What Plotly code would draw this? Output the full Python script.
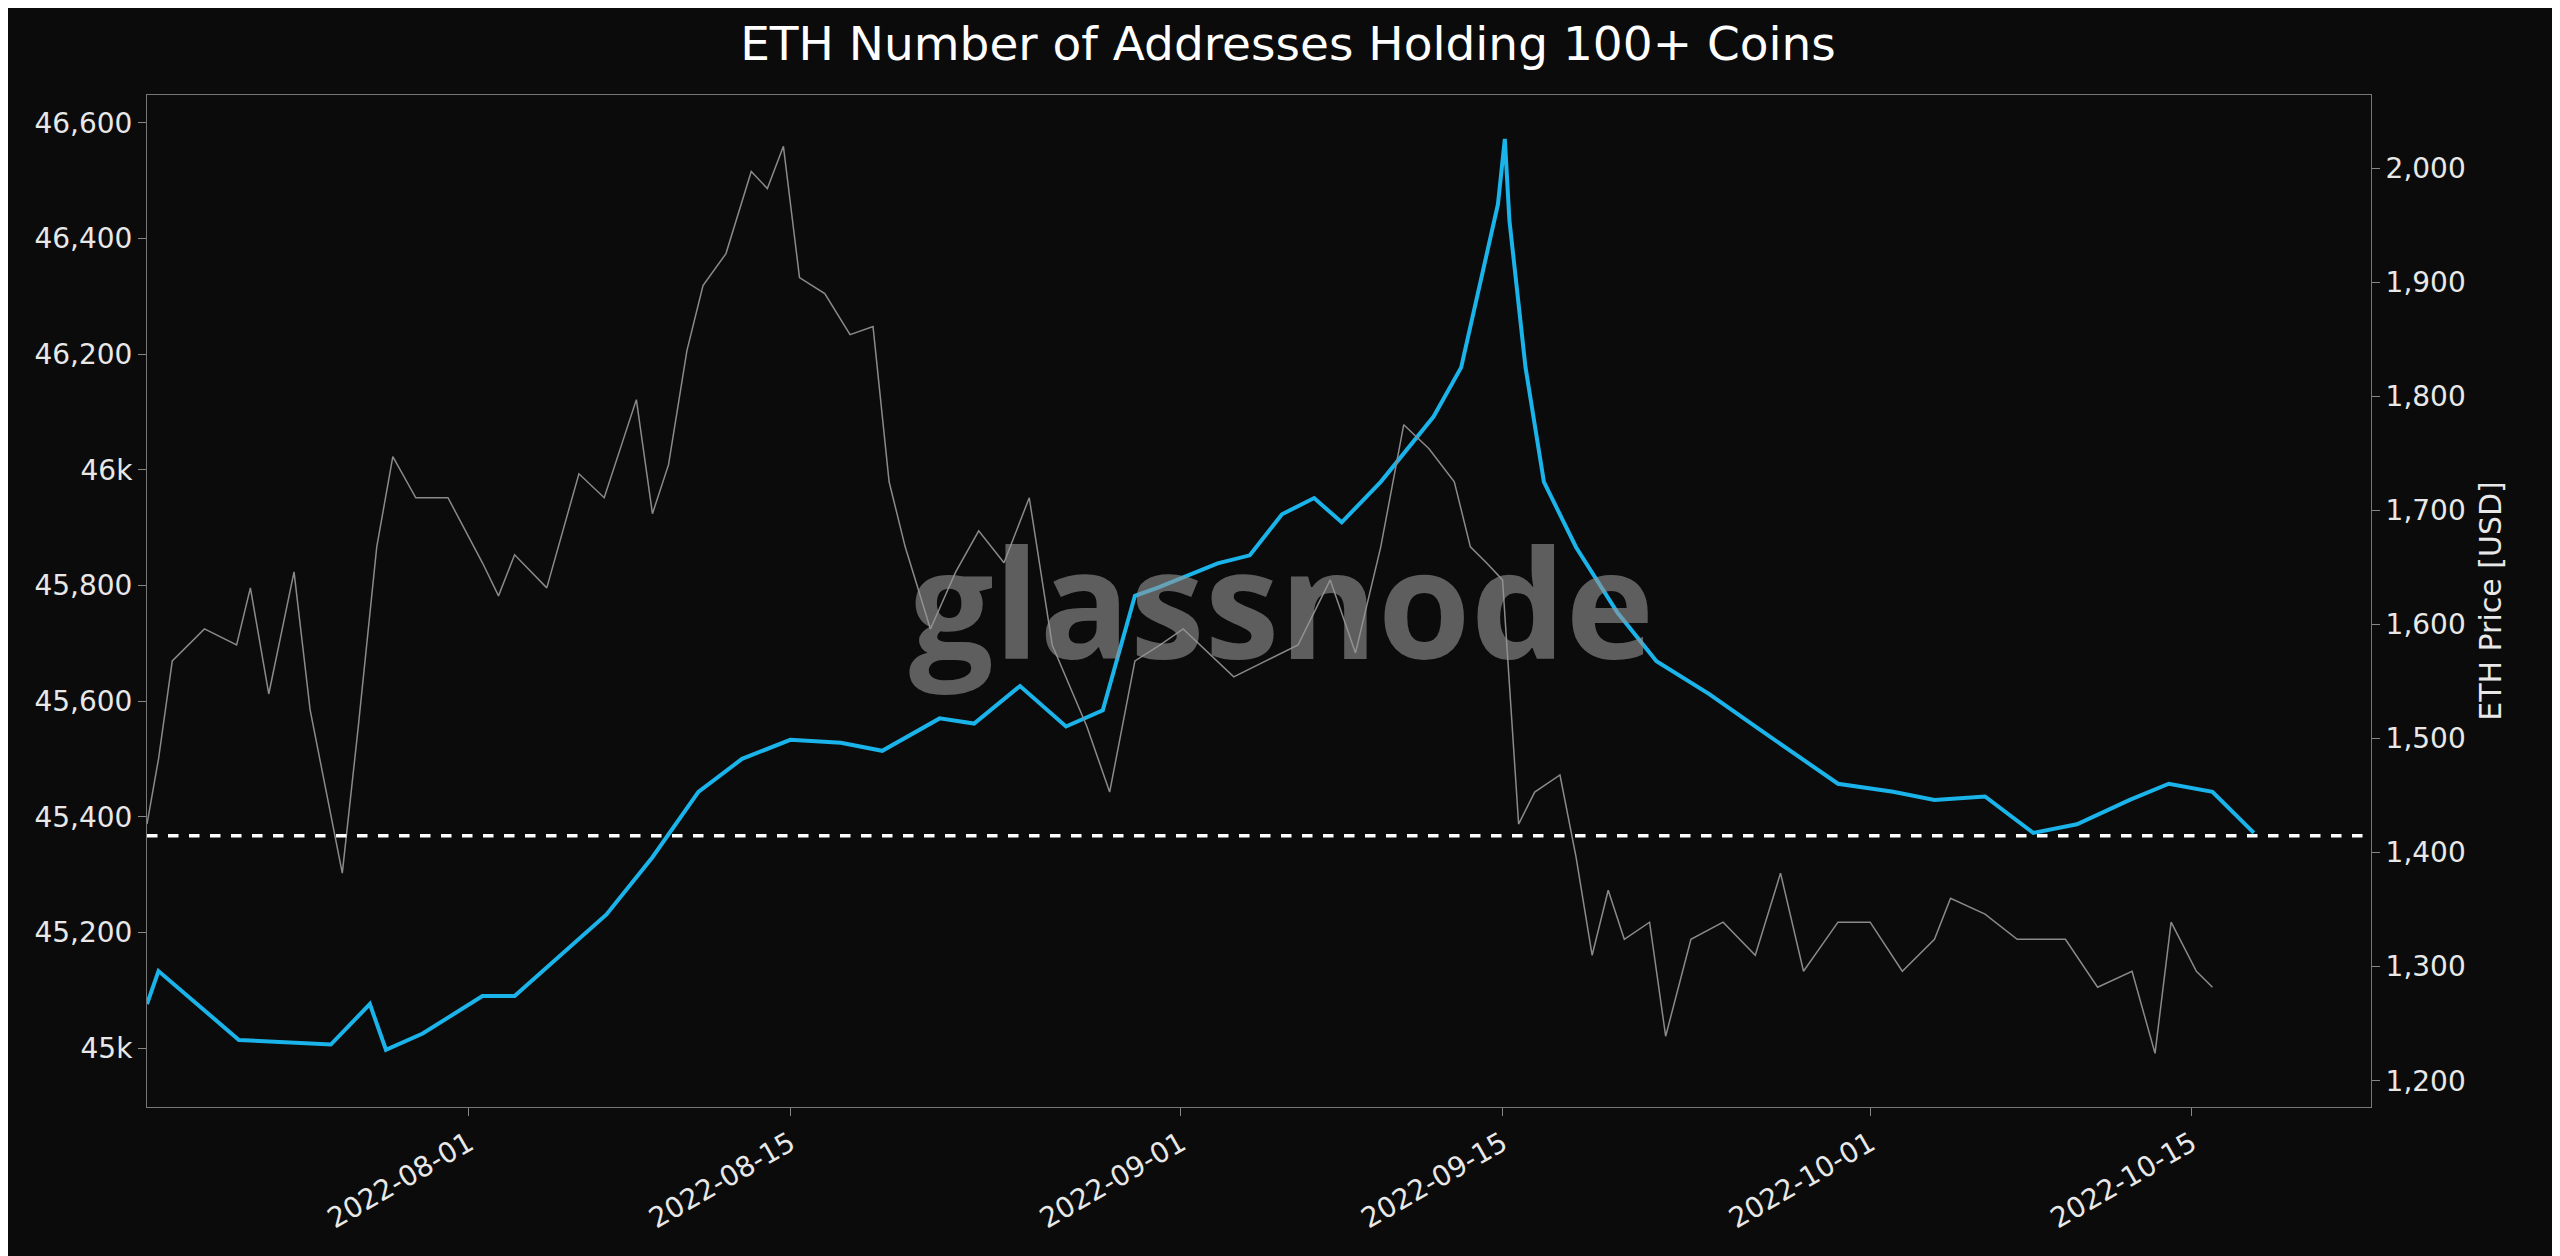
import pandas as pd
import plotly.graph_objects as go

start = pd.Timestamp("2022-07-18")
addr_days = [0,0.5,4,8,9.7,10.4,12,14.6,16,20,22,24,25.9,28,30.2,32,34.5,36,38,40,41.6,43,44,46.6,48,49.4,50.8,52,53.7,56,57.2,58.3,58.8,59.1,59.3,60,60.8,62.2,64,65.7,68,70,72,73.6,76,77.8,80,82.1,84,86.3,88,89.9,91.7]
addr_vals = [45076,45133,45014,45006,45076,44997,45025,45090,45090,45231,45330,45443,45500,45533,45528,45514,45570,45561,45626,45556,45584,45782,45796,45838,45852,45923,45951,45909,45979,46092,46177,46374,46459,46572,46431,46177,45979,45866,45753,45669,45612,45556,45500,45457,45443,45429,45435,45372,45387,45429,45457,45443,45372]
price_days = [0,.5,1.1,2.5,3.9,4.5,5.3,6.4,7.1,7.8,8.5,9.2,10,10.7,11.7,13.1,14.6,15.3,16,17.4,18.8,19.9,21.3,22,22.7,23.5,24.2,25.2,26.3,27,27.7,28.4,29.5,30.6,31.6,32.3,33,34.1,35.2,36.2,37.3,38.4,39.4,40.9,41.9,43,44.1,45.1,46.2,47.3,48.7,50.1,51.5,52.6,53.7,54.7,55.8,56.9,57.6,58.3,59,59.7,60.4,61.5,62.2,62.9,63.6,64.3,65.4,66.1,67.2,68.6,70,71.1,72.1,73.6,75,76.4,77.8,78.5,80,81.4,83.5,84.9,86.4,87.4,88.1,89.2,89.9]
price_vals = [1425,1482,1568,1596,1582,1632,1539,1646,1525,1453,1382,1511,1668,1747,1711,1711,1654,1625,1661,1632,1732,1711,1797,1697,1740,1840,1897,1925,1997,1982,2019,1904,1890,1854,1861,1725,1668,1596,1646,1682,1654,1711,1582,1511,1453,1568,1582,1596,1575,1554,1568,1582,1639,1575,1668,1775,1754,1725,1668,1654,1639,1425,1453,1468,1396,1310,1367,1324,1339,1239,1324,1339,1310,1382,1296,1339,1339,1296,1324,1360,1346,1324,1324,1282,1296,1224,1339,1296,1282]
ref_level = 45367
left_ticks = [45000,45200,45400,45600,45800,46000,46200,46400,46600]
left_text = ["45k","45,200","45,400","45,600","45,800","46k","46,200","46,400","46,600"]

to_dates = lambda d: [start + pd.Timedelta(days=x) for x in d]
fg = "#e8e8e8"
fig = go.Figure()
fig.add_trace(go.Scatter(x=to_dates(price_days), y=price_vals, yaxis="y2", mode="lines",
                         line=dict(color="#8a8a8a", width=1.5), showlegend=False))
fig.add_trace(go.Scatter(x=to_dates(addr_days), y=addr_vals, mode="lines",
                         line=dict(color="#1ab3ea", width=4), showlegend=False))
fig.add_hline(y=ref_level, line=dict(color="white", width=3.5, dash="dash"))
fig.add_annotation(text="<b>glassnode</b>", xref="paper", yref="paper", x=0.51, y=0.5, showarrow=False,
                   font=dict(size=150, color="rgba(150,150,150,0.6)", family="Open Sans"))
fig.update_layout(
    width=2560, height=1256, paper_bgcolor="#0b0b0b", plot_bgcolor="#0b0b0b",
    margin=dict(l=139, r=197, t=87, b=157),
    font=dict(family="DejaVu Sans", color=fg, size=28),
    title=dict(text="ETH Number of Addresses Holding 100+ Coins", x=0.5, y=0.985, yanchor="top",
               font=dict(size=47, color="white")),
    xaxis=dict(range=[start, start + pd.Timedelta(days=96.8)], showgrid=False, zeroline=False,
               tickvals=pd.to_datetime(["2022-08-01","2022-08-15","2022-09-01","2022-09-15","2022-10-01","2022-10-15"]),
               tickformat="%Y-%m-%d", tickangle=-30, ticks="outside", tickcolor="#888", ticklen=8,
               showline=True, linecolor="#777", mirror=True),
    yaxis=dict(range=[44898, 46648], tickvals=left_ticks, ticktext=left_text, showgrid=False, zeroline=False,
               ticks="outside", tickcolor="#888", ticklen=8, showline=True, linecolor="#777", mirror=True),
    yaxis2=dict(range=[1177, 2064], overlaying="y", side="right", tickvals=[1200,1300,1400,1500,1600,1700,1800,1900,2000],
                tickprefix="$", tickformat=",", showgrid=False, zeroline=False, ticks="outside", tickcolor="#888", ticklen=8,
                title=dict(text="ETH Price [USD]", font=dict(size=30))),
)
fig.write_html("out.html")
